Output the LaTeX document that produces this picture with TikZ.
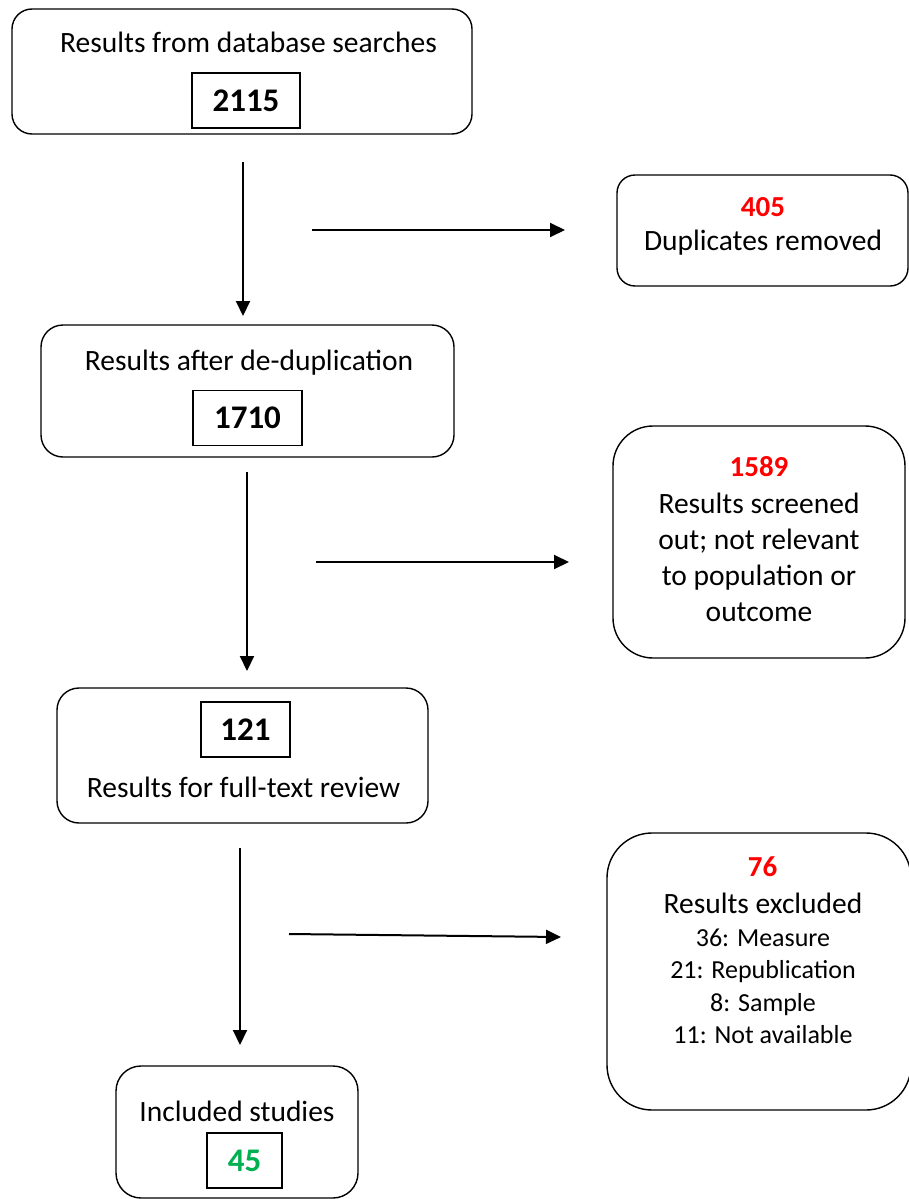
\documentclass[tikz,border=0pt]{standalone}
\usepackage{fontspec}
\setmainfont{Carlito}
\usetikzlibrary{arrows.meta}
\definecolor{numred}{RGB}{255,0,0}
\definecolor{numgreen}{RGB}{0,176,80}
\begin{document}
\begin{tikzpicture}[x=1pt,y=-1pt,
  box/.style={draw, line width=1.4pt, rounded corners=#1, inner sep=0pt},
  numbox/.style={draw, line width=1.4pt, inner sep=0pt, minimum height=55pt, font=\fontsize{33}{38}\selectfont\bfseries},
  txt/.style={inner sep=0pt, align=center, font=\fontsize{29.5}{36}\selectfont},
  small/.style={inner sep=0pt, align=center, font=\fontsize{26}{32.5}\selectfont},
  rednum/.style={inner sep=0pt, text=numred, font=\fontsize{29}{34}\selectfont\bfseries},
  arr/.style={line width=2pt, -{Triangle[length=15pt,width=14pt]}}
]
\useasboundingbox (0,0) rectangle (909,1199);
\clip (0,0) rectangle (909,1199);

% outer boxes
\node[box=20pt, minimum width=460pt, minimum height=125pt] (b1) at (242,71.5) {};
\node[box=18pt, minimum width=291pt, minimum height=111pt] (b2) at (762.5,230.5) {};
\node[box=22pt, minimum width=413pt, minimum height=132pt] (b3) at (247.5,391) {};
\node[box=40pt, minimum width=292pt, minimum height=232pt] (b4) at (759,542) {};
\node[box=22pt, minimum width=371pt, minimum height=135pt] (b5) at (242.5,755.5) {};
\node[box=45pt, minimum width=304pt, minimum height=277pt] (b6) at (759,971.5) {};
\node[box=25pt, minimum width=242pt, minimum height=132pt] (b7) at (237,1132) {};

% texts and number boxes
\node[txt] (t1) at (248.5,42) {Results from database searches};
\node[numbox, minimum width=108pt] (n1) at (246,100.5) {2115};

\node[rednum] (n2) at (763,207) {405};
\node[txt] (t2) at (763,243) {Duplicates removed};

\node[txt] (t3) at (249,363) {Results after de-duplication};
\node[numbox, minimum width=109pt] (n3) at (247.5,418) {1710};

\node[rednum] (n4) at (759,467) {1589};
\node[txt] (t4) at (759,557) {Results screened\\out; not relevant\\to population or\\outcome};

\node[numbox, minimum width=89pt] (n5) at (245.5,729.5) {121};
\node[txt] (t5) at (243.5,787) {Results for full-text review};

\node[rednum] (n6) at (762.5,867) {76};
\node[txt] (t6) at (763,903) {Results excluded};
\node[small] (t6b) at (763,986.5) {36: Measure\\21: Republication\\8: Sample\\11: Not available};

\node[txt] (t7) at (237,1111) {Included studies};
\node[numbox, minimum width=75pt, text=numgreen] (n7) at (244.5,1160.5) {45};

% arrows (free-floating)
\coordinate (a1s) at (243,162); \coordinate (a1e) at (243,316);
\coordinate (h1s) at (312,230); \coordinate (h1e) at (565,230);
\coordinate (a2s) at (247,472); \coordinate (a2e) at (247,671);
\coordinate (h2s) at (316,562); \coordinate (h2e) at (569,562);
\coordinate (a3s) at (240,848); \coordinate (a3e) at (240,1045);
\coordinate (h3s) at (289,934); \coordinate (h3e) at (561,937);

\draw[arr] (a1s) -- (a1e);
\draw[arr] (h1s) -- (h1e);
\draw[arr] (a2s) -- (a2e);
\draw[arr] (h2s) -- (h2e);
\draw[arr] (a3s) -- (a3e);
\draw[arr] (h3s) -- (h3e);
\end{tikzpicture}
\end{document}
